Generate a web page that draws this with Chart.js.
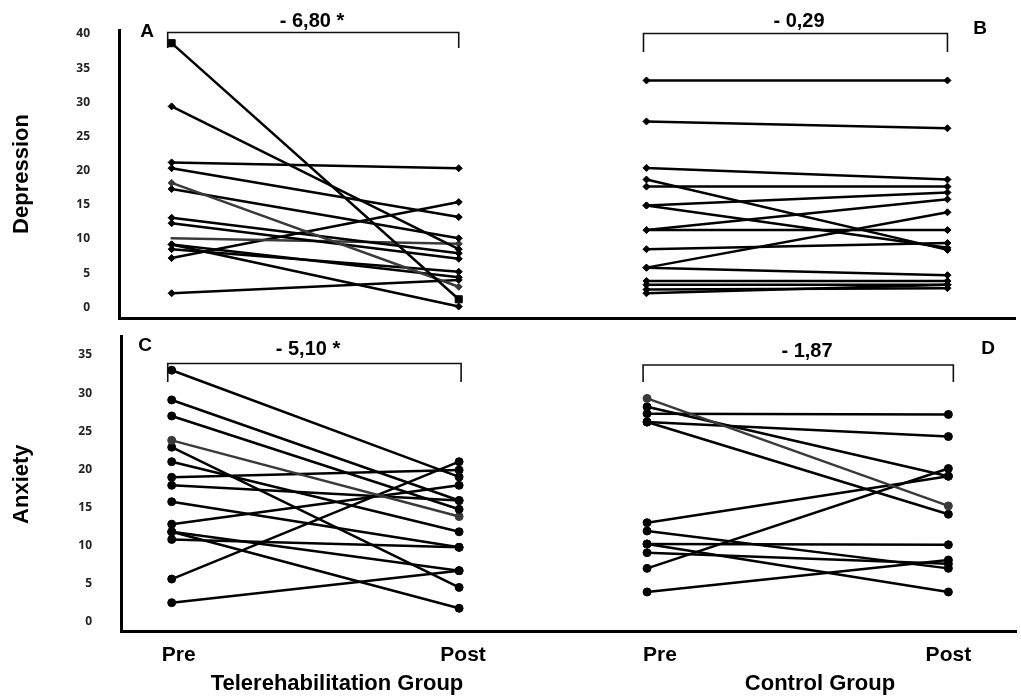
<!DOCTYPE html>
<html><head><meta charset="utf-8">
<script src="https://cdn.jsdelivr.net/npm/chart.js@4"></script>
<style>
html,body{margin:0;padding:0;background:#fff;}
#wrap{position:relative;width:1021px;height:696px;overflow:hidden;background:#fff;}
canvas{position:absolute;left:0;}
#c1{top:0;} #c2{top:326px;}
</style></head><body>
<div id="wrap"><canvas id="c1" width="1021" height="326"></canvas><canvas id="c2" width="1021" height="370"></canvas></div>
<script>
// ---- data ----
const depTicks = [0,5,10,15,20,25,30,35,40];
const anxTicks = [0,5,10,15,20,25,30,35];
const timeLabels = ['Pre','Post','Pre','Post'];
const groupLabels = ['Telerehabilitation Group','Control Group'];
const diffLabels = ['- 6,80 *','- 0,29','- 5,10 *','- 1,87'];
const panelLetters = ['A','B','C','D'];
const yTitles = ['Depression','Anxiety'];

const depTelePre  = [38.65, 29.4, 21.2, 20.35, 18.2, 17.3, 13.1, 12.3, 10.1, 7.2, 8.5, 9.2, 2.05, 9.2];
const depTelePost = [1.17, 8.5, 20.35, 13.2, 3.0, 10.1, 7.9, 7.1, 9.3, 15.4, 5.2, 4.4, 4.0, 0.1];
const depCtrlPre  = [33.2, 27.2, 20.4, 18.7, 17.66, 14.9, 14.9, 11.3, 11.3, 8.5, 5.8, 5.8, 3.85, 3.3, 2.6, 2.05];
const depCtrlPost = [33.2, 26.2, 18.7, 8.4, 17.66, 16.8, 8.7, 15.8, 11.3, 9.4, 13.9, 4.7, 3.85, 3.3, 2.8, 3.3];
const anxTelePre  = [33.0, 29.1, 27.0, 23.8, 22.9, 21.0, 18.95, 17.9, 15.75, 12.8, 11.8, 10.8, 5.6, 2.5, 11.8];
const anxTelePost = [19.0, 15.9, 14.75, 13.8, 4.5, 11.8, 19.9, 15.9, 9.76, 17.9, 6.7, 9.76, 21.0, 6.7, 1.76];
const anxCtrlPre  = [29.3, 28.2, 27.3, 26.2, 26.2, 13.0, 11.9, 10.2, 10.2, 9.06, 7.0, 3.9];
const anxCtrlPost = [15.2, 19.1, 27.2, 24.3, 14.1, 19.1, 7.0, 10.1, 3.9, 7.6, 20.1, 8.1];

// ---- layout / style constants ----
const X_TELE_PRE = 172, X_TELE_POST = 461, X_CTRL_PRE = 650, X_CTRL_POST = 953;
const X_LABEL_POS = [179, 465, 663, 953];
const FONT = '"Liberation Sans", Arial, sans-serif';

function pairSets(pre, post, xPre, xPost, opt) {
  return pre.map((v, i) => {
    const gray = (opt.gray || []).includes(i);
    const col = gray ? '#3a3a3a' : '#000';
    const style = (opt.square || []).includes(i) ? 'rect' : opt.style;
    const r = style === 'rect' ? 5 : opt.radius;
    const noPre = (opt.noPre || []).includes(i);
    return {
      data: [{x: xPre, y: v}, {x: xPost, y: post[i]}],
      borderColor: col, backgroundColor: col, borderWidth: 2.5,
      pointStyle: style, pointRadius: noPre ? [0, r] : r, pointHoverRadius: r,
      pointBorderWidth: 1, pointBorderColor: col, pointBackgroundColor: col,
      tension: 0, fill: false
    };
  });
}

const annot = {
  id: 'annot',
  afterDraw(chart, args, o) {
    const ctx = chart.ctx, xs = chart.scales.x, dy = o.dy;
    ctx.save();
    ctx.strokeStyle = '#111'; ctx.fillStyle = '#111'; ctx.lineWidth = 1.6;
    o.brackets.forEach(b => {
      const x1 = xs.getPixelForValue(b.x1), x2 = xs.getPixelForValue(b.x2);
      ctx.beginPath();
      ctx.moveTo(x1, b.yb - dy); ctx.lineTo(x1, b.y - dy); ctx.lineTo(x2, b.y - dy); ctx.lineTo(x2, b.yb - dy);
      ctx.stroke();
    });
    ctx.textAlign = 'center'; ctx.textBaseline = 'middle';
    o.texts.forEach(t => {
      ctx.font = 'bold ' + t.size + 'px ' + FONT;
      ctx.fillStyle = '#000';
      ctx.fillText(t.text, t.x, t.y - dy);
    });
    ctx.restore();
  }
};

function makeOptions(cfg) {
  return {
    responsive: false, animation: false, devicePixelRatio: 1,
    layout: {padding: {top: cfg.padTop, left: 0, right: 0, bottom: 0}},
    plugins: {legend: {display: false}, tooltip: {enabled: false}, annot: cfg.annot},
    elements: {line: {borderCapStyle: 'round'}},
    scales: {
      x: {
        type: 'linear', min: cfg.xMin, max: 1021,
        grid: {display: false, drawTicks: false},
        border: {display: true, color: '#000', width: 3},
        afterBuildTicks: s => { s.ticks = cfg.showX ? X_LABEL_POS.map(v => ({value: v})) : []; },
        ticks: {
          display: cfg.showX, autoSkip: false, maxRotation: 0, minRotation: 0, padding: 11,
          font: {family: FONT, weight: 'bold', size: 21}, color: '#000',
          callback: (v, i) => timeLabels[i]
        },
        afterFit: s => { s.height = cfg.xHeight; s.paddingLeft = 0; s.paddingRight = 0; s.paddingTop = 0; s.paddingBottom = 0; }
      },
      y: {
        type: 'linear', min: cfg.yMin, max: cfg.yMax,
        grid: {display: false, drawTicks: false},
        border: {display: true, color: '#000', width: 3},
        afterBuildTicks: s => { s.ticks = cfg.yTicks.map(v => ({value: v})); },
        ticks: {padding: 29, font: {family: '"Open Sans", sans-serif', weight: 'bold', size: 12}, color: '#222'},
        title: {display: true, text: cfg.title, color: '#000', font: {family: FONT, weight: 'bold', size: 22}, padding: {top: 9, bottom: 0}},
        afterFit: s => { s.width = cfg.xMin; s.paddingLeft = 0; s.paddingRight = 0; s.paddingTop = 0; s.paddingBottom = 0; }
      }
    }
  };
}

// ---- top chart: Depression ----
new Chart(document.getElementById('c1'), {
  type: 'line',
  data: {datasets: [
    ...pairSets(depTelePre, depTelePost, X_TELE_PRE, X_TELE_POST, {style: 'rectRot', radius: 3.5, gray: [4, 8], noPre: [8], square: [0]}),
    ...pairSets(depCtrlPre, depCtrlPost, X_CTRL_PRE, X_CTRL_POST, {style: 'rectRot', radius: 3.5})
  ]},
  options: makeOptions({
    padTop: 30, xMin: 119, xHeight: 8, showX: false,
    yMin: -1.57, yMax: 40.58, yTicks: depTicks, title: yTitles[0],
    annot: {
      dy: 0,
      brackets: [{x1: 168, x2: 461, y: 32.5, yb: 48}, {x1: 647, x2: 953, y: 33.5, yb: 52}],
      texts: [
        {text: diffLabels[0], x: 312, y: 21, size: 20},
        {text: diffLabels[1], x: 799, y: 21, size: 20},
        {text: panelLetters[0], x: 147, y: 32, size: 19},
        {text: panelLetters[1], x: 980, y: 29, size: 19}
      ]
    }
  }),
  plugins: [annot]
});

// ---- bottom chart: Anxiety ----
new Chart(document.getElementById('c2'), {
  type: 'line',
  data: {datasets: [
    ...pairSets(anxTelePre, anxTelePost, X_TELE_PRE, X_TELE_POST, {style: 'circle', radius: 4, gray: [3]}),
    ...pairSets(anxCtrlPre, anxCtrlPost, X_CTRL_PRE, X_CTRL_POST, {style: 'circle', radius: 4, gray: [0]})
  ]},
  options: makeOptions({
    padTop: 10.7, xMin: 121, xHeight: 64.3, showX: true,
    yMin: -1.31, yMax: 37.4, yTicks: anxTicks, title: yTitles[1],
    annot: {
      dy: 326,
      brackets: [{x1: 168, x2: 463, y: 363.5, yb: 382}, {x1: 646, x2: 958, y: 365, yb: 382}],
      texts: [
        {text: diffLabels[2], x: 308, y: 349, size: 20},
        {text: diffLabels[3], x: 807, y: 351, size: 20},
        {text: panelLetters[2], x: 145, y: 346, size: 19},
        {text: panelLetters[3], x: 988, y: 349, size: 19},
        {text: groupLabels[0], x: 337, y: 684, size: 22},
        {text: groupLabels[1], x: 820, y: 684, size: 22}
      ]
    }
  }),
  plugins: [annot]
});
</script>
</body></html>
